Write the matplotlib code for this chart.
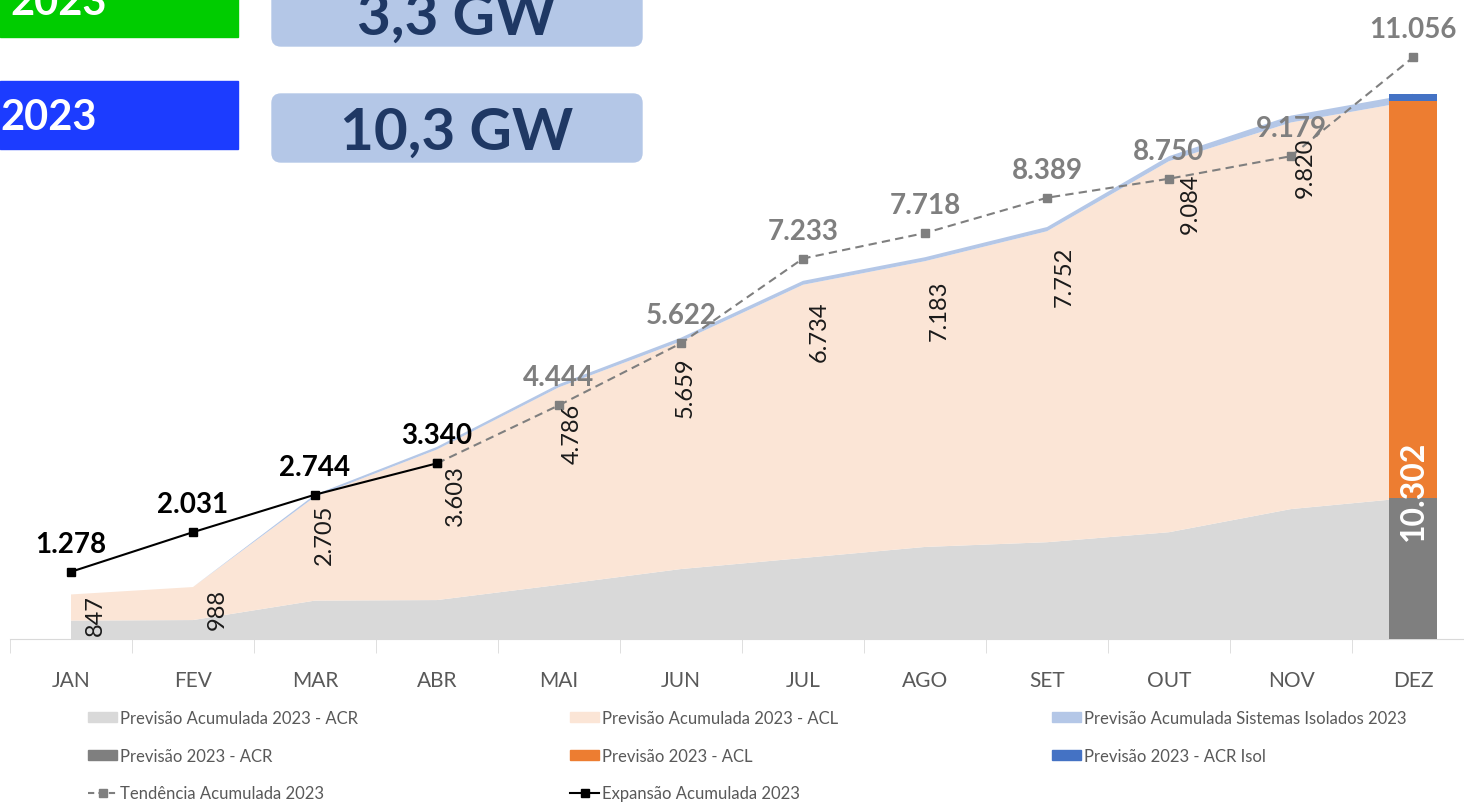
import matplotlib
matplotlib.use('Agg')
import matplotlib.pyplot as plt
from matplotlib.patches import Patch, Rectangle, FancyBboxPatch
from matplotlib.lines import Line2D
import numpy as np

plt.rcParams['font.family'] = ['Lato', 'DejaVu Sans']

nan = np.nan
meses = ['JAN', 'FEV', 'MAR', 'ABR', 'MAI', 'JUN', 'JUL', 'AGO', 'SET', 'OUT', 'NOV', 'DEZ']

# previsao acumulada (MW)
acr_acum = [350, 360, 730, 740, 1030, 1330, 1540, 1750, 1840, 2030, 2470, 2690]
acl_acum = [497, 628, 1975, 2863, 3756, 4329, 5194, 5433, 5912, 7054, 7350, 7540]
isol_acum = [0, 0, 40, 50, 60, 70, 75, 75, 80, 95, 130, 135]
prev_lbl = [847, 988, 2705, 3603, 4786, 5659, 6734, 7183, 7752, 9084, 9820]

tendencia = [nan, nan, nan, 3340, 4444, 5622, 7233, 7718, 8389, 8750, 9179, 11056]
expansao = [1278, 2031, 2744, 3340, nan, nan, nan, nan, nan, nan, nan, nan]

# barra de dezembro
dez_acr = 2690
dez_acl = 7540
dez_isol = 135
dez_lbl = 10302

box_lbls = ['3,3 GW', '10,3 GW']


def fmt(v):
    return f'{int(v):,}'.replace(',', '.')


c_acr, c_acl, c_isol = '#d9d9d9', '#fbe5d6', '#b4c7e7'
c_bacr, c_bacl, c_bisol = '#7f7f7f', '#ed7d31', '#4472c4'

fig = plt.figure(figsize=(14.64, 8.04), dpi=100)
ax = fig.add_axes([10 / 1464, 164 / 804, 1.0, 640 / 804])
x = np.arange(len(meses))

ax.stackplot(x, acr_acum, acl_acum, isol_acum, colors=[c_acr, c_acl, c_isol],
             linewidth=0, zorder=1)

ax.bar(11, dez_acr, 0.39, color=c_bacr, zorder=3)
ax.bar(11, dez_acl, 0.39, bottom=dez_acr, color=c_bacl, zorder=3)
ax.bar(11, dez_isol, 0.39, bottom=dez_acr + dez_acl, color=c_bisol, zorder=3)
ax.text(11, 2830, fmt(dez_lbl), rotation=90, ha='center', va='center',
        color='white', fontsize=23, fontweight='bold', zorder=6)

ax.plot(x, tendencia, color='#7f7f7f', lw=1.5, ls=(0, (4, 2.5)), marker='s',
        ms=6, zorder=4)
ax.plot(x, expansao, color='black', lw=1.5, marker='s', ms=6, zorder=5)

# rotulos da previsao acumulada (girados)
dxs = [24, 24, 9, 18, 13, 4, 16, 14, 17, 21, 14]
dys = [0, 1, 7, 15, 15, 15, 16, 18, 15, 11, 14]
for i, v in enumerate(prev_lbl):
    ax.annotate(fmt(v), (i, acr_acum[i] + acl_acum[i]), xytext=(dxs[i], -dys[i]),
                textcoords='offset pixels', rotation=90, ha='center', va='top',
                fontsize=17, color='#1a1a1a', zorder=6)

for i, v in enumerate(tendencia):
    if i >= 4:
        ax.annotate(fmt(v), (i, v), xytext=(0, 28), textcoords='offset pixels',
                    ha='center', va='center', fontsize=20, fontweight='bold',
                    color='#7f7f7f', zorder=6)
for i, v in enumerate(expansao):
    if not np.isnan(v):
        ax.annotate(fmt(v), (i, v), xytext=(0, 28), textcoords='offset pixels',
                    ha='center', va='center', fontsize=20, fontweight='bold',
                    color='black', zorder=6)

ax.set_xlim(-0.5, 11.5)
ax.set_ylim(0, 12167)
ax.set_yticks([])
for s in ['left', 'right', 'top']:
    ax.spines[s].set_visible(False)
ax.spines['bottom'].set_color('#d9d9d9')
ax.set_xticks(x)
ax.set_xticklabels(meses, fontsize=15, color='#595959')
ax.tick_params(axis='x', which='major', length=0, pad=22)
ax.set_xticks(np.arange(-0.5, 12, 1), minor=True)
ax.tick_params(axis='x', which='minor', length=10, color='#d9d9d9')

# legenda em tres colunas
cols = [
    [(Patch(color=c_acr), 'Previsão Acumulada 2023 - ACR'),
     (Patch(color=c_bacr), 'Previsão 2023 - ACR'),
     (Line2D([], [], color='#7f7f7f', lw=1.5, ls=(0, (3, 2)), marker='s', ms=6),
      'Tendência Acumulada 2023')],
    [(Patch(color=c_acl), 'Previsão Acumulada 2023 - ACL'),
     (Patch(color=c_bacl), 'Previsão 2023 - ACL'),
     (Line2D([], [], color='black', lw=1.5, marker='s', ms=6), 'Expansão Acumulada 2023')],
    [(Patch(color=c_isol), 'Previsão Acumulada Sistemas Isolados 2023'),
     (Patch(color=c_bisol), 'Previsão 2023 - ACR Isol')],
]
for cx, col in zip([88, 570, 1052], cols):
    fig.legend([h for h, _ in col], [l for _, l in col], loc='upper left',
               bbox_to_anchor=(cx / 1464, 1 - 711 / 804), frameon=False,
               fontsize=12, labelcolor='#595959', handlelength=1.75,
               handleheight=0.6, handletextpad=0.2, labelspacing=1.3,
               borderpad=0, borderaxespad=0)

# caixas do topo
ov = fig.add_axes([0, 0, 1, 1], zorder=10)
ov.set_xlim(0, 1464)
ov.set_ylim(804, 0)
ov.axis('off')
ov.add_patch(Rectangle((0, -10), 238, 48, color='#00cc00'))
ov.add_patch(Rectangle((0, 82), 238, 68, color='#1c3cff'))
ov.text(107, 15, '2023', ha='right', va='baseline', color='white',
        fontsize=30, fontweight='bold')
ov.text(97, 130, '2023', ha='right', va='baseline', color='white',
        fontsize=30, fontweight='bold')
for (y0, y1, yb), t in zip([(-30, 47, 35), (95, 163, 150)], box_lbls):
    ov.add_patch(FancyBboxPatch((272, y0), 370, y1 - y0,
                                boxstyle='round,pad=0,rounding_size=9',
                                color=c_isol))
    ov.text(457, yb, t, ha='center', va='baseline', color='#1f3864',
            fontsize=42, fontweight='bold')

fig.savefig('out.png', dpi=100)
